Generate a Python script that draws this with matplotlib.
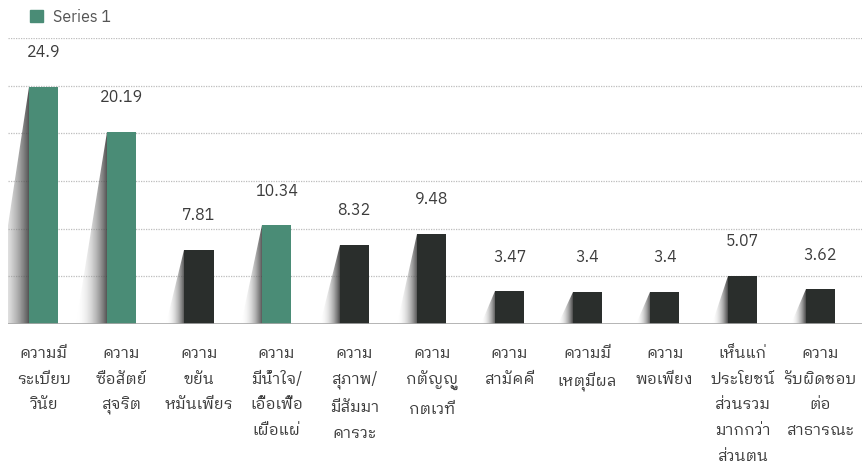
import matplotlib
matplotlib.use("Agg")
import matplotlib.pyplot as plt
from matplotlib import font_manager as fm
from matplotlib.patches import Polygon, Patch
import numpy as np

# datos del grafico
categorias = [
    "ความมี\nระเบียบ\nวินัย",
    "ความ\nซื่อสัตย์\nสุจริต",
    "ความ\nขยัน\nหมั่นเพียร",
    "ความ\nมีน้ำใจ/\nเอื้อเฟื้อ\nเผื่อแผ่",
    "ความ\nสุภาพ/\nมีสัมมา\nคารวะ",
    "ความ\nกตัญญู\nกตเวที",
    "ความ\nสามัคคี",
    "ความมี\nเหตุมีผล",
    "ความ\nพอเพียง",
    "เห็นแก่\nประโยชน์\nส่วนรวม\nมากกว่า\nส่วนตน",
    "ความ\nรับผิดชอบ\nต่อ\nสาธารณะ",
]
valores = [24.9, 20.19, 7.81, 10.34, 8.32, 9.48, 3.47, 3.4, 3.4, 5.07, 3.62]
etiquetas = ["24.9", "20.19", "7.81", "10.34", "8.32", "9.48", "3.47", "3.4", "3.4", "5.07", "3.62"]
destacados = [True, True, False, True, False, False, False, False, False, False, False]
serie = "Series 1"

verde = "#4a8c76"
oscuro = "#2a2e2c"
gris_texto = "#3c3c3c"


# buscar una fuente que tenga letras thai
def fuente_thai():
    try:
        from fontTools.ttLib import TTFont
    except Exception:
        return None
    archivos = set(f.fname for f in fm.fontManager.ttflist)
    archivos.update(fm.findSystemFonts())
    candidatos = []
    for f in sorted(archivos):
        try:
            tt = TTFont(f, fontNumber=0, lazy=True)
            cmap = tt.getBestCmap() or {}
            if 0x0E04 in cmap and 0x0E27 in cmap:
                nombre = fm.FontProperties(fname=f).get_name()
                candidatos.append((nombre, f))
        except Exception:
            pass
    if not candidatos:
        return None

    # preferir fuentes thai con lazos (como Tahoma) y peso normal
    def orden(c):
        n = c[0] + " " + c[1]
        lazo = any(k in n for k in ["Looped", "Loma", "Garuda", "Tlwg", "Waree", "Norasi", "Kinnari", "Tahoma"])
        raro = any(k in c[1] for k in ["Bold", "Italic", "Light", "Thin", "Black", "Medium", "Semi", "Oblique"])
        return (raro, not lazo, "Sans" not in c[0], c[0])

    candidatos.sort(key=orden)
    nombre, f = candidatos[0]
    fm.fontManager.addfont(f)
    return nombre


thai = fuente_thai()
familias = [thai, "DejaVu Sans"] if thai else ["DejaVu Sans"]
plt.rcParams["font.family"] = familias

fig = plt.figure(figsize=(8.66, 4.70), dpi=100)
ax = fig.add_axes([8 / 866, 146 / 470, 854 / 866, 286 / 470])

x = np.arange(len(valores))
ancho = 0.375
colores = [verde if d else oscuro for d in destacados]

# lineas de la grilla
for yv in [5, 10, 15, 20, 25, 30]:
    ax.axhline(yv, color="#bdbdbd", linewidth=0.9, linestyle=(0, (1, 1)), zorder=0)
ax.axhline(0, color="#a8a8a8", linewidth=1.2, zorder=3)

# sombras degradadas a la izquierda de cada barra
grad = np.linspace(0, 1, 64).reshape(1, -1)
cmap_sombra = matplotlib.colors.LinearSegmentedColormap.from_list(
    "sombra", [(1, 1, 1, 0), (0.22, 0.22, 0.22, 0.9)])
for xi, h in zip(x, valores):
    izq = xi - ancho / 2
    dx = 0.14 + 0.013 * h
    poly = Polygon([(izq, h), (izq, 0), (izq - dx, 0)], closed=True,
                   facecolor="none", edgecolor="none")
    ax.add_patch(poly)
    im = ax.imshow(grad, extent=[izq - dx, izq, 0, h], aspect="auto",
                   cmap=cmap_sombra, zorder=1, interpolation="bilinear")
    im.set_clip_path(poly)

ax.bar(x, valores, width=ancho, color=colores, zorder=2)

ax.set_ylim(0, 30)
ax.set_xlim(-0.46, len(valores) - 0.46)

# etiquetas de valores
for xi, h, t in zip(x, valores, etiquetas):
    ax.annotate(t, (xi, h), xytext=(0, 19), textcoords="offset points",
                ha="center", va="bottom", fontsize=11.5, color=gris_texto)

ax.set_xticks(x)
ax.set_xticklabels(categorias, fontsize=11.3, color=gris_texto, linespacing=1.75,
                   va="top", ha="center")
ax.tick_params(axis="x", length=0, pad=15)
ax.set_yticks([])
for s in ax.spines.values():
    s.set_visible(False)

fig.legend(handles=[Patch(color=verde)], labels=[serie], loc="upper left",
           bbox_to_anchor=(16 / 866, 1.012), frameon=False, fontsize=11.5,
           handlelength=0.8, handleheight=0.8, handletextpad=0.6,
           labelcolor="#555555")

fig.savefig("out.png", dpi=100)
